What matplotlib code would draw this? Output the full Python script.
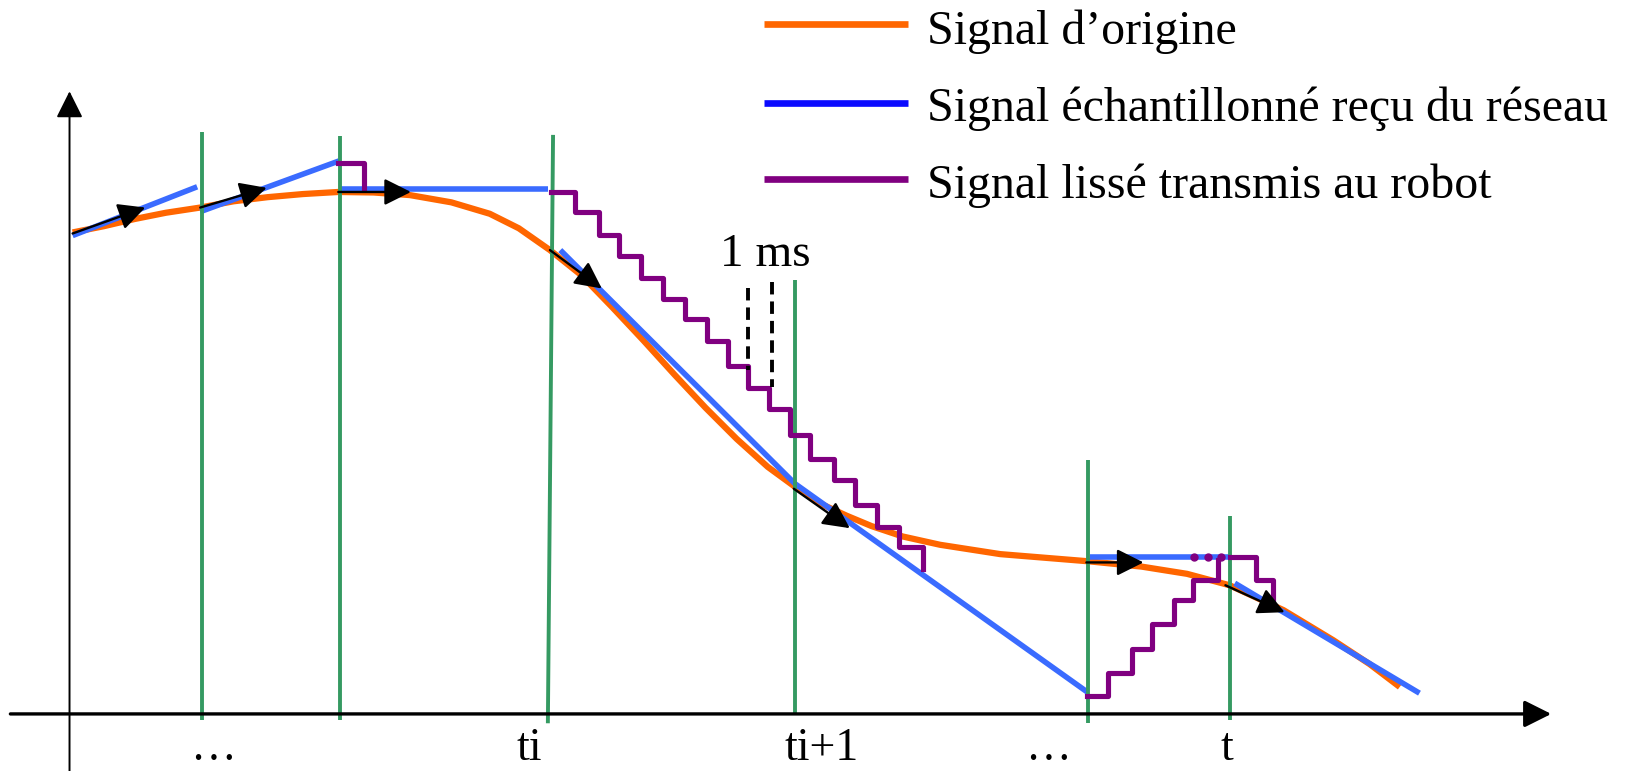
import numpy as np
import matplotlib
matplotlib.use("Agg")
import matplotlib.pyplot as plt

# repère en pixels (origine en haut à gauche)
W, H = 1568, 743

# signal d'origine
orig_x = [70, 100, 130, 160, 193, 225, 258, 292, 326, 360, 395, 435, 472, 500, 530,
          560, 590, 620, 650, 680, 710, 740, 766, 790, 816, 840, 870, 906,
          964, 1050, 1100, 1144, 1185, 1237, 1285, 1320, 1349]
orig_y = [224, 218, 211, 205, 200, 194, 190, 187, 185, 185.5, 188, 195, 206, 220, 241,
          265, 296, 328, 361, 393, 423, 450, 469, 485, 497, 507, 517, 525,
          534, 541, 546, 553, 564, 588, 617, 640, 662]

# signal échantillonné reçu du réseau (morceaux)
recu_x = [[70, 190], [193, 327], [327, 528], [540, 766, 1048], [1050, 1185], [1190, 1368]]
recu_y = [[227, 180], [204, 155], [182, 182], [241, 466, 667], [537, 537], [562, 668]]

# signal lissé transmis au robot (escaliers)
lisse_x = [[326, 351],
           [531, 554, 577, 597, 618, 639, 660, 681, 702, 721, 741, 761, 781, 804, 824, 845, 866, 890],
           [1048, 1068, 1091, 1110, 1131, 1150, 1174],
           [1185, 1210, 1227]]
lisse_y = [[157, 181],
           [185, 204, 226, 247, 268, 288, 307, 329, 353, 374, 394, 419, 442, 463, 487, 508, 527, 548],
           [671, 649, 625, 601, 578, 559, 540],
           [537, 559, 583]]
points_x = [1151, 1164, 1177]
points_y = [537, 537, 537]

# instants de réception
inst_x_haut = [195, 328, 533, 766, 1049, 1185]
inst_x_bas = [195, 328, 528, 766, 1049, 1185]
inst_haut = [127, 131, 130, 270, 443, 497]
inst_bas = [694, 694, 697, 689, 697, 694]

# flèches de sens
fl_debut = [(70, 225), (193, 200), (326, 185), (530, 241), (765, 471), (1047, 542), (1181, 564)]
fl_fin = [(140, 200), (257, 181), (396, 185), (580, 278), (819, 509), (1102, 542), (1238, 590)]

# étiquettes de l'axe du temps
tick_pos = [205, 510, 792, 1010, 1182]
tick_lab = ['…', 'ti', 'ti+1', '…', 't']

legende = ["Signal d’origine", "Signal échantillonné reçu du réseau", "Signal lissé transmis au robot"]
leg_y = [23.5, 99.6, 172.8]
leg_base = [42.4, 116.3, 191]

c_orange = '#ff6600'
c_bleu = '#3a6bff'
c_violet = '#800080'
c_vert = '#359a62'

plt.rcParams['font.family'] = ['Liberation Serif', 'DejaVu Serif']

fig = plt.figure(figsize=(16.27, 7.71), dpi=100)
ax = fig.add_axes([0, 0, 1, 1])
ax.set_xlim(0, W)
ax.set_ylim(H, 0)
ax.axis('off')

fleche = dict(arrowstyle='-|>,head_length=0.4,head_width=0.2', mutation_scale=41,
              color='black', shrinkA=0, shrinkB=0)

# axes
ax.annotate('', xy=(67, 88), xytext=(67, H), arrowprops=dict(fleche, lw=1.4), zorder=7)
ax.annotate('', xy=(1495, 688), xytext=(10, 688), arrowprops=dict(fleche, lw=2.4), zorder=7)

ax.plot(orig_x, orig_y, color=c_orange, lw=4.5, solid_capstyle='butt',
        solid_joinstyle='round', zorder=2)
for xs, ys in zip(recu_x, recu_y):
    ax.plot(xs, ys, color=c_bleu, lw=4.0, solid_capstyle='butt', zorder=3)

for xh, xb, yh, yb in zip(inst_x_haut, inst_x_bas, inst_haut, inst_bas):
    ax.plot([xh, xb], [yh, yb], color=c_vert, lw=2.8, solid_capstyle='butt', zorder=4)

for xs, ys in zip(lisse_x, lisse_y):
    ax.step(xs, ys, where='post', color=c_violet, lw=3.7, zorder=5)
ax.plot(points_x, points_y, 'o', color=c_violet, ms=5, zorder=5)

for d, f in zip(fl_debut, fl_fin):
    ax.annotate('', xy=f, xytext=d, arrowprops=dict(fleche, lw=1.7), zorder=6)

# 1 ms
ax.plot([721, 721], [278, 357], color='black', lw=2.8, dashes=(3.2, 1.8), zorder=6)
ax.plot([744, 744], [272, 373], color='black', lw=2.8, dashes=(3.2, 1.8), zorder=6)
ax.text(694, 256.5, '1 ms', fontsize=34, ha='left', va='baseline')

for p, lab in zip(tick_pos, tick_lab):
    ax.text(p, 732, lab, fontsize=33, ha='center', va='baseline')

# légende
for y, yb, txt, c in zip(leg_y, leg_base, legende, [c_orange, '#0a0aff', c_violet]):
    ax.plot([736, 875], [y, y], color=c, lw=4.8, solid_capstyle='butt')
    ax.text(893, yb, txt, fontsize=34.5, ha='left', va='baseline')

fig.savefig('out.png', dpi=100)
